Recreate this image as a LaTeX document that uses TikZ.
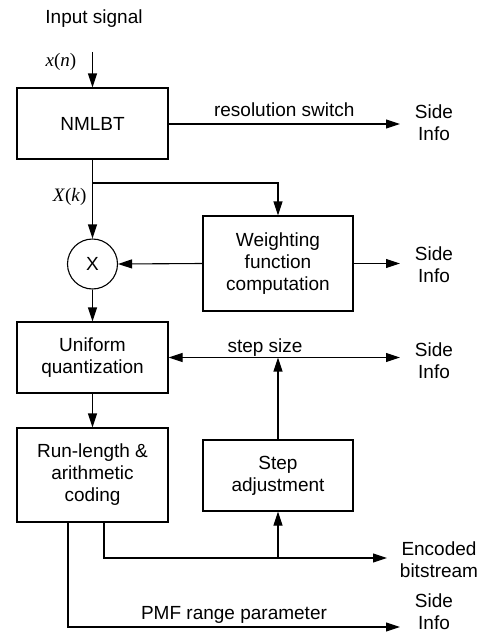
\documentclass[tikz,border=0pt]{standalone}
\usepackage{fontspec}
\setmainfont{Liberation Sans}
\newfontfamily\tms{Liberation Serif}
\usetikzlibrary{arrows.meta}

\begin{document}
\begin{tikzpicture}[x=1pt,y=-1pt,line width=1.1pt]
\tikzstyle{bloque}=[draw,minimum width=151pt,align=center,inner sep=0pt,font=\fontsize{19}{22}\selectfont]
\tikzstyle{texto}=[align=center,inner sep=0pt,font=\fontsize{19}{22}\selectfont]
\tikzstyle{senal}=[inner sep=0pt,font=\fontsize{19}{22}\tms\itshape]
\tikzstyle{flecha}=[-{Triangle[length=14pt,width=9pt]}]

\useasboundingbox (0,0) rectangle (484,634);

% bloques
\node[bloque,minimum height=71pt] (nmlbt) at (92.5,123.5) {NMLBT};
\node[bloque,minimum width=150pt,minimum height=95pt] (peso) at (278,263.5) {Weighting\\function\\computation};
\node[draw,circle,minimum size=50pt,inner sep=0pt,font=\fontsize{19}{22}\selectfont] (mult) at (92.5,264) {X};
\node[bloque,minimum height=71pt] (cuant) at (92.5,357.5) {Uniform\\quantization};
\node[bloque,minimum height=94pt] (codif) at (92.5,475) {Run-length \&\\arithmetic\\coding};
\node[bloque,minimum width=150pt,minimum height=71pt] (paso) at (278,475.5) {Step\\adjustment};

% textos
\node[texto] (entrada) at (94,19) {Input signal};
\node[senal] (xn) at (61,62) {x\textup{(}n\textup{)}};
\node[senal,anchor=east] (Xk) at (87,197) {X\textup{(}k\textup{)}};
\node[texto] (side1) at (434,123) {Side\\Info};
\node[texto] (side2) at (434,265) {Side\\Info};
\node[texto] (side3) at (434,361) {Side\\Info};
\node[texto] (side4) at (434,612) {Side\\Info};
\node[texto] (bits) at (439,560) {Encoded\\bitstream};

\coordinate (e0) at (92.5,52);
\coordinate (s1) at (400,124);
\coordinate (s2) at (400,263.5);
\coordinate (s3) at (400,357.5);
\coordinate (s4) at (400,627);
\coordinate (s5) at (387,558);
\coordinate (r1) at (68,522);
\coordinate (r2) at (104,522);

% conexiones
\draw[flecha] (e0) -- (nmlbt.north);
\draw[flecha] (nmlbt.east |- s1) -- node[texto,above=7pt] (res) {resolution switch} (s1);
\draw[flecha] (nmlbt.south) -- (mult.north);
\draw[flecha] (nmlbt.south |- 0,183) -| (peso.north);
\draw[flecha] (peso.west) -- (mult.east);
\draw[flecha] (peso.east) -- (s2);
\draw[flecha] (mult.south) -- (cuant.north);
\draw[{Triangle[length=14pt,width=9pt]}-{Triangle[length=14pt,width=9pt]}] (cuant.east) -- (s3);
\node[texto] (paso lbl) at (265,348) {step size};
\draw[flecha] (paso.north) -- (paso.north |- cuant.east);
\draw[flecha] (cuant.south) -- (codif.north);
\draw[flecha] (r2) |- (s5);
\draw[flecha] (paso.south |- s5) -- (paso.south);
\draw[flecha] (r1) |- node[texto,pos=0.75,above=3pt] (pmf) {PMF range parameter} (s4);
\end{tikzpicture}
\end{document}
